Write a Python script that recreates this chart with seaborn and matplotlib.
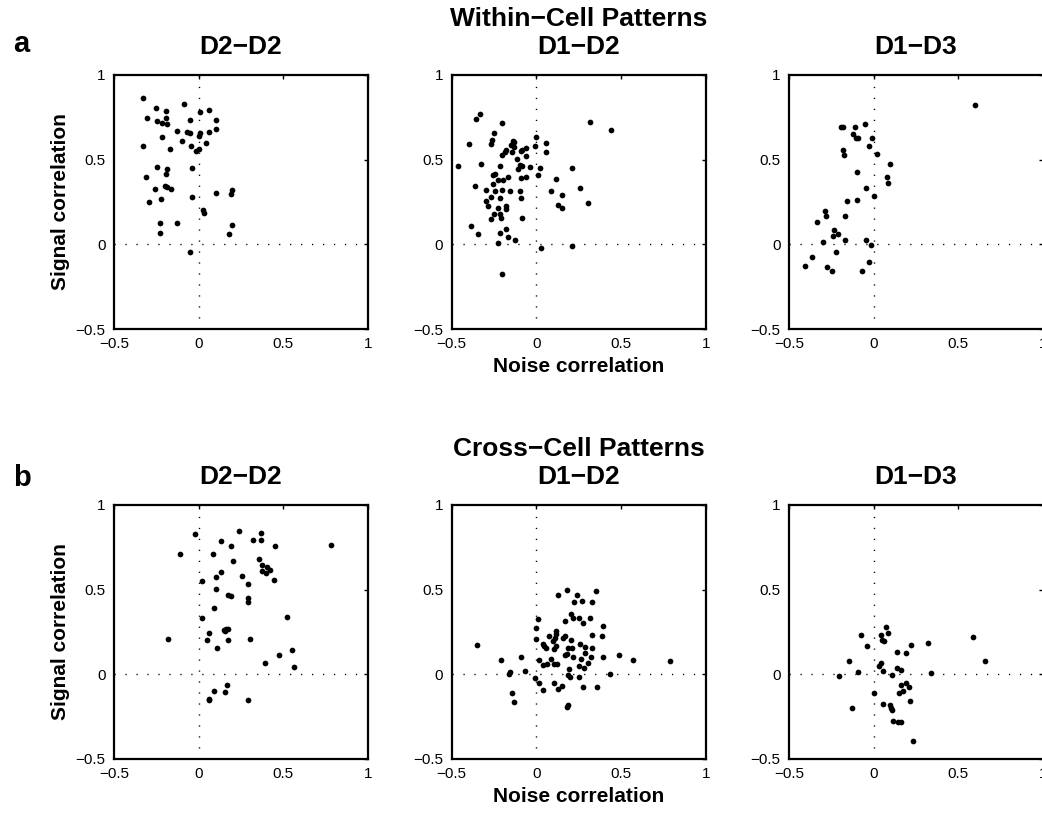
import numpy as np
import pandas as pd
import matplotlib
matplotlib.use("Agg")
import matplotlib.pyplot as plt
import seaborn as sns

# ---- Within-cell patterns -------------------------------------------------
within_d2d2_noise = [-0.327, -0.253, -0.086, -0.190, 0.008, 0.061, -0.306, -0.245, -0.190,
                     -0.218, -0.188, -0.049, 0.102, 0.102, -0.129, -0.067, -0.049, 0.008,
                     0.000, 0.061, -0.218, -0.098, -0.331, -0.047, 0.043, -0.169, 0.000,
                     -0.018, -0.249, -0.188, -0.037, -0.194, -0.310, -0.259, -0.200, -0.188,
                     -0.165, -0.037, 0.100, 0.196, 0.192, -0.296, -0.225, 0.024, 0.029,
                     -0.229, -0.129, 0.194, -0.229, 0.180, -0.051]
within_d2d2_signal = [0.863, 0.808, 0.831, 0.790, 0.782, 0.794, 0.747, 0.729, 0.747,
                      0.716, 0.708, 0.735, 0.733, 0.684, 0.671, 0.663, 0.657, 0.657,
                      0.641, 0.665, 0.635, 0.612, 0.582, 0.580, 0.596, 0.563, 0.563,
                      0.553, 0.455, 0.445, 0.449, 0.418, 0.398, 0.327, 0.343, 0.341,
                      0.327, 0.280, 0.304, 0.320, 0.300, 0.251, 0.265, 0.202, 0.184,
                      0.127, 0.127, 0.116, 0.069, 0.061, -0.047]

within_d1d2_noise = [-0.463, -0.398, -0.357, -0.333, -0.202, -0.325, -0.365, -0.388, -0.343,
                     -0.253, -0.263, -0.269, -0.137, -0.133, -0.147, -0.133, -0.180, -0.188,
                     -0.204, -0.145, -0.116, -0.092, -0.082, -0.059, -0.059, -0.002, -0.008,
                     0.055, 0.059, -0.216, -0.259, -0.247, -0.225, -0.198, -0.167, -0.098,
                     -0.086, -0.110, -0.039, 0.020, 0.008, -0.090, -0.061, -0.259, -0.300,
                     -0.243, -0.204, -0.153, -0.096, -0.267, -0.216, -0.088, -0.298, -0.288,
                     -0.229, -0.180, -0.178, -0.251, -0.216, -0.206, -0.267, -0.084, -0.182,
                     -0.216, -0.165, -0.127, -0.224, 0.025, 0.210, -0.204, 0.086, 0.114,
                     0.149, 0.127, 0.149, 0.212, 0.255, 0.302, 0.318, 0.439]
within_d1d2_signal = [0.465, 0.590, 0.741, 0.769, 0.716, 0.473, 0.345, 0.106, 0.059,
                      0.657, 0.618, 0.590, 0.612, 0.602, 0.588, 0.573, 0.555, 0.543,
                      0.527, 0.547, 0.506, 0.549, 0.555, 0.571, 0.524, 0.635, 0.578,
                      0.596, 0.545, 0.465, 0.412, 0.418, 0.378, 0.378, 0.398, 0.469,
                      0.465, 0.443, 0.455, 0.451, 0.408, 0.392, 0.398, 0.359, 0.320,
                      0.314, 0.322, 0.316, 0.314, 0.280, 0.271, 0.276, 0.257, 0.225,
                      0.216, 0.225, 0.210, 0.182, 0.180, 0.155, 0.147, 0.153, 0.088,
                      0.065, 0.041, 0.024, 0.006, -0.020, -0.010, -0.173, 0.314, 0.386,
                      0.294, 0.235, 0.216, 0.449, 0.335, 0.243, 0.722, 0.673]

within_d1d3_noise = [0.598, -0.192, -0.180, -0.110, -0.049, -0.125, -0.104, -0.090, -0.010,
                     -0.027, 0.020, -0.182, -0.176, 0.096, -0.100, 0.076, 0.086, -0.045,
                     0.000, -0.157, -0.098, -0.286, -0.280, -0.169, -0.337, -0.235, -0.208,
                     -0.243, -0.298, -0.169, -0.045, -0.016, -0.224, -0.367, -0.404, -0.275,
                     -0.249, -0.027, -0.067]
within_d1d3_signal = [0.824, 0.692, 0.692, 0.690, 0.708, 0.653, 0.629, 0.629, 0.627,
                      0.582, 0.533, 0.555, 0.525, 0.476, 0.425, 0.400, 0.363, 0.331,
                      0.284, 0.257, 0.263, 0.198, 0.165, 0.167, 0.131, 0.084, 0.059,
                      0.049, 0.014, 0.024, 0.024, -0.002, -0.045, -0.073, -0.125, -0.131,
                      -0.155, -0.104, -0.159]

# ---- Cross-cell patterns --------------------------------------------------
cross_d2d2_noise = [-0.024, -0.112, -0.180, 0.241, 0.367, 0.129, 0.320, 0.367, 0.188,
                    0.453, 0.784, 0.084, 0.202, 0.357, 0.371, 0.406, 0.424, 0.376,
                    0.396, 0.129, 0.104, 0.257, 0.018, 0.292, 0.447, 0.100, 0.171,
                    0.192, 0.294, 0.292, 0.088, 0.020, 0.522, 0.151, 0.163, 0.175,
                    0.157, 0.061, 0.047, 0.171, 0.306, 0.108, 0.553, 0.476, 0.392,
                    0.561, 0.167, 0.090, 0.153, 0.061, 0.059, 0.292]
cross_d2d2_signal = [0.831, 0.710, 0.206, 0.845, 0.837, 0.790, 0.792, 0.794, 0.759,
                     0.759, 0.765, 0.708, 0.667, 0.680, 0.647, 0.635, 0.614, 0.612,
                     0.598, 0.606, 0.575, 0.578, 0.553, 0.535, 0.559, 0.504, 0.467,
                     0.461, 0.451, 0.425, 0.392, 0.331, 0.339, 0.261, 0.265, 0.265,
                     0.257, 0.241, 0.204, 0.200, 0.208, 0.153, 0.145, 0.114, 0.069,
                     0.045, -0.065, -0.100, -0.104, -0.143, -0.151, -0.151]

cross_d1d2_noise = [-0.351, -0.206, -0.155, -0.161, -0.092, -0.065, -0.143, -0.131, -0.008,
                    0.014, 0.041, 0.000, 0.010, 0.000, 0.014, 0.037, 0.037, 0.047,
                    0.057, 0.065, 0.075, 0.086, 0.098, 0.102, 0.108, 0.114, 0.118,
                    0.118, 0.104, 0.124, 0.106, 0.127, 0.151, 0.127, 0.155, 0.169,
                    0.171, 0.169, 0.182, 0.182, 0.186, 0.184, 0.192, 0.196, 0.182,
                    0.188, 0.206, 0.206, 0.208, 0.214, 0.216, 0.225, 0.237, 0.249,
                    0.255, 0.253, 0.253, 0.263, 0.271, 0.276, 0.278, 0.288, 0.288,
                    0.284, 0.306, 0.316, 0.320, 0.331, 0.327, 0.331, 0.353, 0.355,
                    0.386, 0.396, 0.392, 0.437, 0.486, 0.573, 0.786]
cross_d1d2_signal = [0.173, 0.086, 0.014, 0.000, 0.104, 0.018, -0.110, -0.163, -0.024,
                     -0.051, -0.092, 0.275, 0.329, 0.206, 0.084, 0.055, 0.178, 0.167,
                     0.155, 0.059, 0.224, 0.088, 0.196, 0.147, 0.212, 0.257, 0.239,
                     0.169, 0.061, 0.061, -0.053, -0.084, -0.069, 0.469, 0.212, 0.224,
                     0.312, 0.112, 0.122, 0.500, 0.155, -0.004, 0.029, -0.016, -0.196,
                     -0.182, 0.357, 0.200, 0.157, 0.333, 0.104, 0.427, 0.469, 0.331,
                     0.178, 0.047, -0.016, 0.092, 0.435, 0.302, -0.078, 0.159, 0.124,
                     0.035, 0.065, 0.331, 0.104, 0.429, 0.231, 0.153, 0.492, -0.078,
                     0.224, 0.286, 0.102, 0.000, 0.112, 0.082, 0.078]

cross_d1d3_noise = [0.071, -0.076, 0.045, 0.084, 0.049, 0.063, -0.041, 0.222, 0.322,
                    0.586, 0.139, 0.192, -0.143, 0.045, 0.033, 0.057, -0.092, 0.135,
                    0.163, 0.341, 0.659, -0.206, 0.110, 0.188, 0.163, 0.208, 0.175,
                    0.149, 0.002, 0.212, 0.053, 0.098, 0.104, 0.110, -0.129, 0.114,
                    0.143, 0.159, 0.233]
cross_d1d3_signal = [0.278, 0.233, 0.231, 0.241, 0.200, 0.196, 0.165, 0.171, 0.184,
                     0.222, 0.129, 0.125, 0.076, 0.067, 0.049, 0.018, 0.016, 0.039,
                     0.027, 0.010, 0.076, -0.010, -0.004, -0.051, -0.065, -0.073, -0.096,
                     -0.110, -0.110, -0.159, -0.176, -0.182, -0.198, -0.210, -0.198, -0.276,
                     -0.284, -0.280, -0.394]

pair_titles = ["D2\u2212D2", "D1\u2212D2", "D1\u2212D3"]
row_headers = ["Within\u2212Cell Patterns", "Cross\u2212Cell Patterns"]
row_letters = ["a", "b"]
tick_values = [-0.5, 0, 0.5, 1]
tick_labels = ["\u22120.5", "0", "0.5", "1"]
x_label = "Noise correlation"
y_label = "Signal correlation"

panels = [
    [(within_d2d2_noise, within_d2d2_signal),
     (within_d1d2_noise, within_d1d2_signal),
     (within_d1d3_noise, within_d1d3_signal)],
    [(cross_d2d2_noise, cross_d2d2_signal),
     (cross_d1d2_noise, cross_d1d2_signal),
     (cross_d1d3_noise, cross_d1d3_signal)],
]

sns.set_style("white")
plt.rcParams["font.family"] = ["Liberation Sans", "DejaVu Sans"]
plt.rcParams["axes.unicode_minus"] = True
plt.rcParams["text.color"] = "black"
plt.rcParams["axes.labelcolor"] = "black"
plt.rcParams["xtick.color"] = "black"
plt.rcParams["ytick.color"] = "black"

fig = plt.figure(figsize=(10.42, 8.16), dpi=100)

W = 0.2438
H = 0.3113
lefts = [0.1094, 0.4335, 0.7572]
bottoms = [0.5968, 0.0699]
dotted = (0, (0.9, 7))

for r in range(2):
    for c in range(3):
        ax = fig.add_axes([lefts[c], bottoms[r], W, H])
        xs, ys = panels[r][c]
        df = pd.DataFrame({"noise": xs, "signal": ys})
        ax.axhline(0, color="black", lw=1.0, ls=dotted, zorder=1)
        ax.axvline(0, color="black", lw=1.0, ls=dotted, zorder=1)
        sns.scatterplot(data=df, x="noise", y="signal", ax=ax, color="black",
                        s=17, linewidth=0, zorder=3, legend=False)
        ax.set_xlim(-0.5, 1)
        ax.set_ylim(-0.5, 1)
        ax.set_xticks(tick_values)
        ax.set_yticks(tick_values)
        ax.set_xticklabels(tick_labels)
        ax.set_yticklabels(tick_labels)
        ax.tick_params(direction="in", top=True, right=True, length=3, width=1,
                       labelsize=11, pad=6, colors="black")
        for sp in ax.spines.values():
            sp.set_linewidth(1.6)
            sp.set_color("black")
        ax.set_xlabel("")
        ax.set_ylabel("")
        if c == 1:
            ax.set_title(row_headers[r] + "\n" + pair_titles[c], fontsize=19,
                         fontweight="bold", pad=15, linespacing=1.2, color="black")
            ax.set_xlabel(x_label, fontsize=15, fontweight="bold")
            ax.xaxis.set_label_coords(0.5, -0.112)
        else:
            ax.set_title(pair_titles[c], fontsize=19, fontweight="bold", pad=15,
                         color="black")
        if c == 0:
            ax.set_ylabel(y_label, fontsize=15, fontweight="bold")
            ax.yaxis.set_label_coords(-0.175, 0.5)

fig.text(0.0125, 0.936, row_letters[0], fontsize=21, fontweight="bold",
         ha="left", va="baseline")
fig.text(0.0125, 0.404, row_letters[1], fontsize=21, fontweight="bold",
         ha="left", va="baseline")

fig.savefig("out.png", dpi=100)
